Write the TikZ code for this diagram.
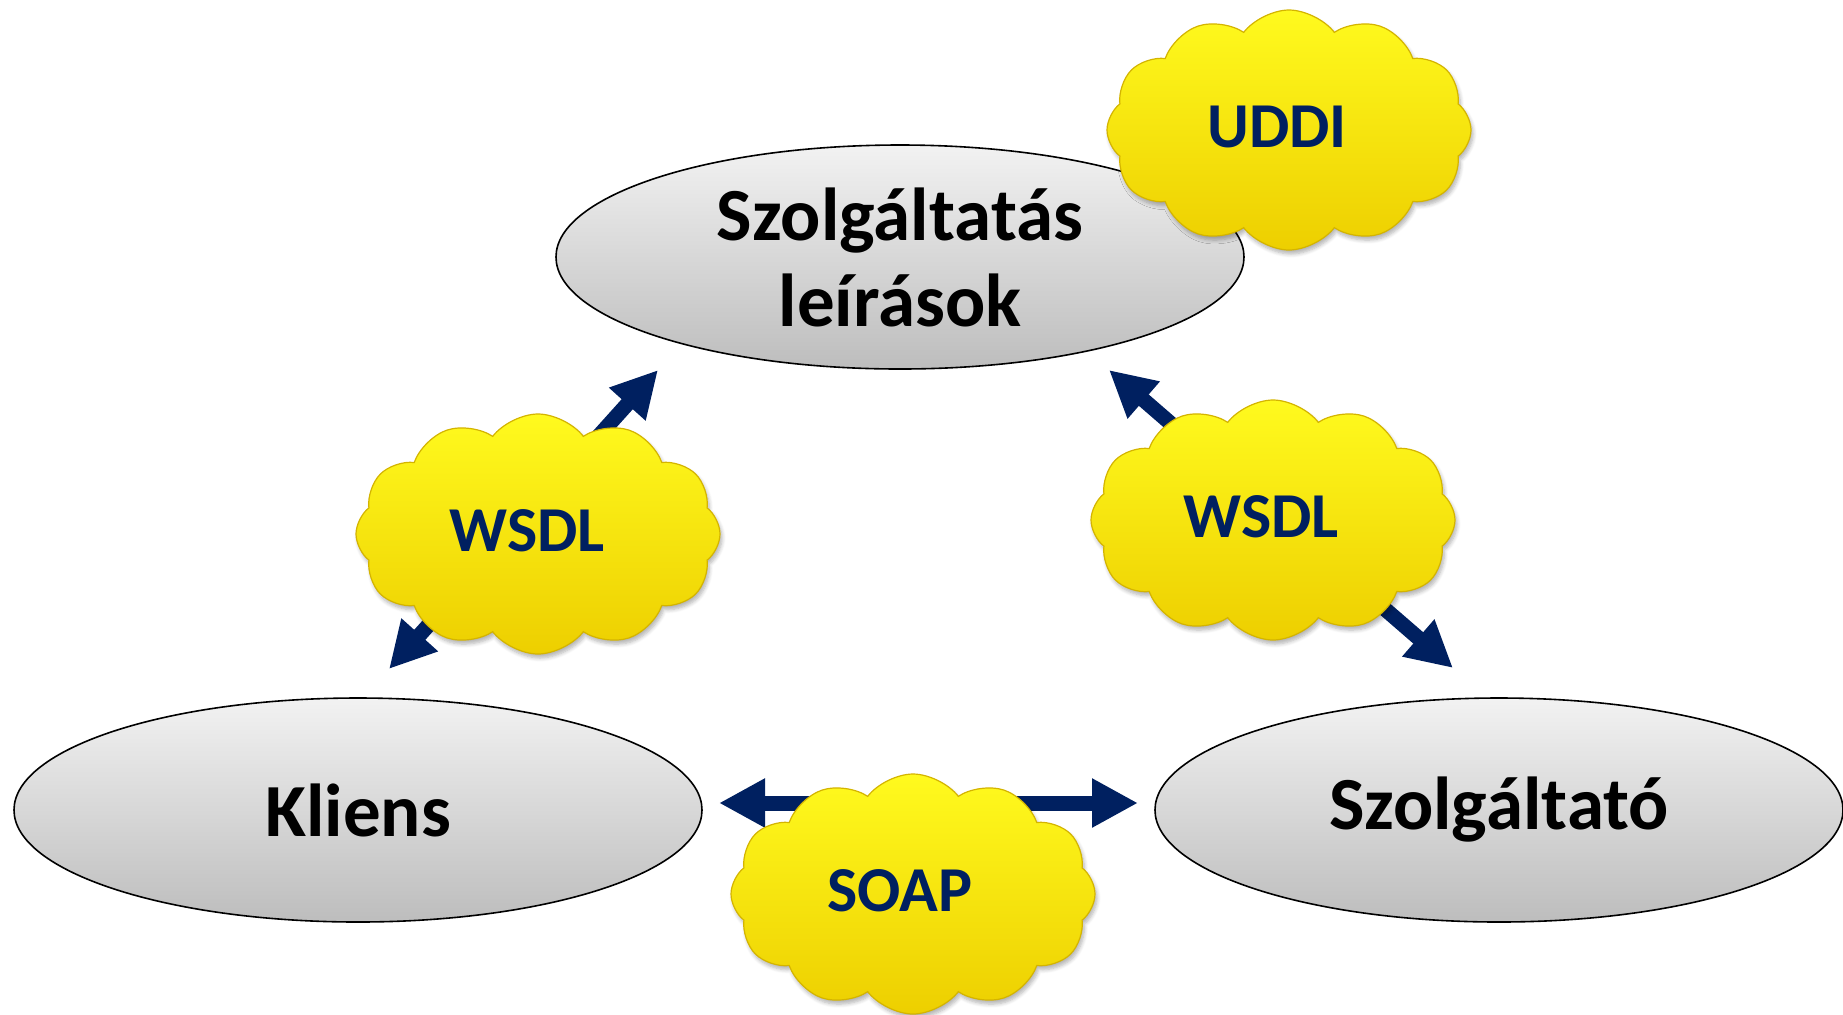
\documentclass[tikz,border=0pt]{standalone}
\usepackage{fontspec}
\setmainfont{Carlito}
\usetikzlibrary{shapes.geometric,shapes.symbols,arrows.meta,shadows.blur}
\definecolor{navy}{HTML}{002060}
\definecolor{cloudtop}{HTML}{FFFA1E}
\definecolor{cloudbot}{HTML}{EDCF00}
\definecolor{cloudedge}{HTML}{D4B400}
\definecolor{ovaltop}{HTML}{F2F2F2}
\definecolor{ovalbot}{HTML}{BDBDBD}
\begin{document}
\begin{tikzpicture}[x=0.5pt,y=-0.5pt,
  oval/.style={ellipse, draw=black, line width=0.8pt, top color=ovaltop, bottom color=ovalbot,
    minimum width=344pt, minimum height=112pt, inner sep=0pt, align=center,
    font=\fontsize{37.5}{43}\selectfont\bfseries},
  puff/.style={cloud, cloud puffs=12, cloud puff arc=105, cloud ignores aspect,
    minimum width=182pt, minimum height=120pt, top color=cloudtop, bottom color=cloudbot,
    draw=cloudedge, line width=0.6pt,
    blur shadow={shadow xshift=1pt, shadow yshift=-2pt, shadow blur steps=6, shadow opacity=30},
    inner sep=0pt},
  tag/.style={text=navy, font=\fontsize{32}{36}\selectfont\bfseries, inner sep=0pt},
  link/.style={navy, line width=7.5pt, {Triangle[length=23pt,width=23pt]}-{Triangle[length=23pt,width=23pt]}}]
  \useasboundingbox (0,0) rectangle (1843,1014);

  % the three parties
  \node[oval] (desc) at (900,257) {Szolgáltatás\\leírások};
  \node[oval] (client) at (358,810) {Kliens};
  \node[oval] (provider) at (1499,810) {Szolgáltató};

  % arrow end points
  \coordinate (cl-a) at (389,669);
  \coordinate (cl-b) at (658,370);
  \coordinate (pr-a) at (1109,370);
  \coordinate (pr-b) at (1453,668);
  \coordinate (so-a) at (719,803);
  \coordinate (so-b) at (1138,803);

  \draw[link] (cl-a) -- (cl-b);
  \draw[link] (pr-a) -- (pr-b);
  \draw[link] (so-a) -- (so-b);

  % protocol clouds with their labels
  \node[puff] (uddi) at (1289,130) {};
  \node[tag] (uddi-t) at (1277,127) {UDDI};
  \node[puff] (wsdl-l) at (538,534) {};
  \node[tag] (wsdl-lt) at (527,531) {WSDL};
  \node[puff] (wsdl-r) at (1273,520) {};
  \node[tag] (wsdl-rt) at (1261,517) {WSDL};
  \node[puff] (soap) at (913,894) {};
  \node[tag] (soap-t) at (900,891) {SOAP};
\end{tikzpicture}
\end{document}
